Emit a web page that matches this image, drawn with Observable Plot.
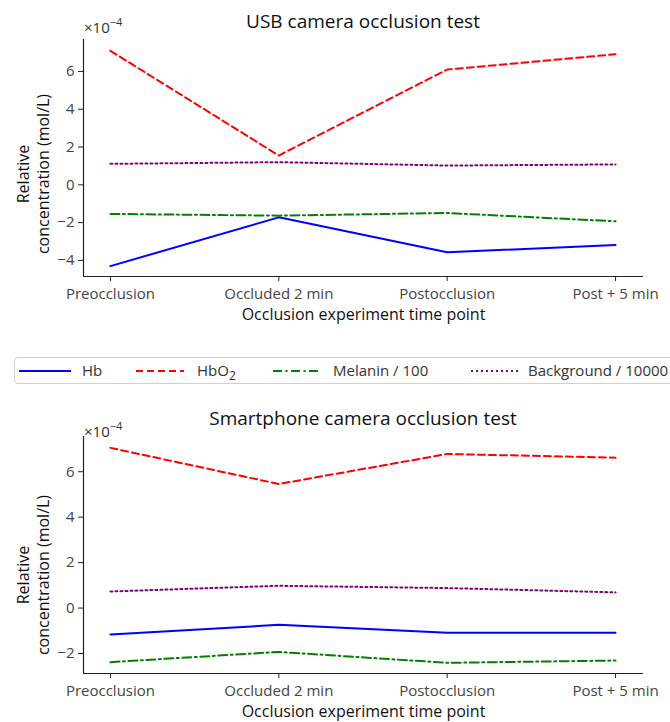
<!DOCTYPE html>
<html>
<head>
<meta charset="utf-8">
<script src="https://cdn.jsdelivr.net/npm/d3@7"></script>
<script src="https://cdn.jsdelivr.net/npm/@observablehq/plot@0.6"></script>
<style>
  html, body { margin: 0; padding: 0; background: #fff; }
  body { font-family: "Open Sans", sans-serif; }
  #root { position: relative; width: 670px; height: 722px; overflow: hidden; }
  .title { position: absolute; font-size: 19px; color: #111; text-align: center; white-space: nowrap; }
  .expo { position: absolute; font-size: 15px; color: #333; white-space: nowrap; }
  .expo sup { font-size: 11px; position: relative; top: -1px; }
  .panel { position: absolute; left: 0; }
  #legend { position: absolute; left: 14px; top: 357px; width: 700px; height: 27px; border: 1px solid #d0d0d0; border-radius: 4px; box-sizing: border-box; }
  .litem { position: absolute; top: 0; height: 25px; }
  .litem svg { position: absolute; top: 0; }
  .litem span { position: absolute; top: 2px; font-size: 15px; color: #333; white-space: nowrap; }
</style>
</head>
<body>
<div id="root"></div>
<script>
// ---- data (values in units of 1e-4 mol/L) ----
const categories = ["Preocclusion", "Occluded 2 min", "Postocclusion", "Post + 5 min"];
const exponent = -4;

const usbHb = [-4.30, -1.72, -3.57, -3.18];
const usbHbO2 = [7.09, 1.55, 6.10, 6.91];
const usbMelanin = [-1.54, -1.63, -1.49, -1.93];
const usbBackground = [1.11, 1.20, 1.02, 1.08];

const phoneHb = [-1.16, -0.74, -1.09, -1.09];
const phoneHbO2 = [7.05, 5.46, 6.78, 6.62];
const phoneMelanin = [-2.38, -1.93, -2.41, -2.31];
const phoneBackground = [0.73, 0.98, 0.88, 0.69];

const seriesNames = ["Hb", "HbO2", "Melanin / 100", "Background / 10000"];
const usbTicks = [-4, -2, 0, 2, 4, 6];
const phoneTicks = [-2, 0, 2, 4, 6];

const styles = [
  {stroke: "blue", dash: null},
  {stroke: "red", dash: "7,4"},
  {stroke: "green", dash: "9,3.5,2,3.5"},
  {stroke: "purple", dash: "2,3"}
];

function panel(values, yDomain, yTicks, top, height, mTop, mBottom, labelDy) {
  const rows = [];
  values.forEach((arr, s) => arr.forEach((v, i) => rows.push({s, i, v})));
  const marks = [];
  styles.forEach((st, s) => {
    marks.push(Plot.line(rows.filter(d => d.s === s), {
      x: "i", y: "v", stroke: st.stroke, strokeWidth: 2,
      strokeDasharray: st.dash, strokeLinejoin: "miter"
    }));
  });
  marks.push(Plot.ruleY([yDomain[0]], {stroke: "#222", strokeWidth: 1.2}));
  marks.push(Plot.ruleX([-0.16], {stroke: "#222", strokeWidth: 1.2}));
  marks.push(Plot.axisX({ticks: [0, 1, 2, 3], tickFormat: i => categories[i], tickSize: 5, tickPadding: 7, label: null, fontSize: 15, fill: "#444", stroke: "#222"}));
  marks.push(Plot.axisY({ticks: yTicks, tickFormat: d => d < 0 ? "\u2212" + Math.abs(d) : String(d), tickSize: 5, tickPadding: 4, label: null, fontSize: 15, fill: "#444", stroke: "#222"}));
  marks.push(Plot.text(["Occlusion experiment time point"], {frameAnchor: "bottom", dy: 43, fontSize: 16, fill: "#111"}));
  marks.push(Plot.text(["Relative\nconcentration (mol/L)"], {frameAnchor: "left", textAnchor: "middle", rotate: -90, dx: -51, dy: labelDy, fontSize: 16, fill: "#111", lineHeight: 1.25}));
  const svg = Plot.plot({
    width: 670, height,
    marginLeft: 83, marginRight: 27, marginTop: mTop, marginBottom: mBottom,
    x: {type: "linear", domain: [-0.16, 3.166]},
    y: {domain: yDomain},
    style: {fontFamily: "Open Sans", fontSize: "15px", background: "transparent", overflow: "visible"},
    marks
  });
  svg.classList.add("panel");
  svg.style.top = top + "px";
  return svg;
}

const root = document.getElementById("root");
root.appendChild(panel([usbHb, usbHbO2, usbMelanin, usbBackground], [-4.85, 7.69], usbTicks, 0, 330, 39, 54, 16));
root.appendChild(panel([phoneHb, phoneHbO2, phoneMelanin, phoneBackground], [-2.88, 7.55], phoneTicks, 400, 322, 36, 49, 20));

function addDiv(cls, html, left, top, width) {
  const d = document.createElement("div");
  d.className = cls; d.innerHTML = html;
  d.style.left = left + "px"; d.style.top = top + "px";
  if (width) d.style.width = width + "px";
  root.appendChild(d);
}
addDiv("title", "USB camera occlusion test", 83, 8, 560);
addDiv("title", "Smartphone camera occlusion test", 83, 405, 560);
addDiv("expo", "\u00d710<sup>\u2212" + Math.abs(exponent) + "</sup>", 84, 15);
addDiv("expo", "\u00d710<sup>\u2212" + Math.abs(exponent) + "</sup>", 84, 419);

// legend
const legend = document.createElement("div");
legend.id = "legend";
root.appendChild(legend);
const legendPos = [{l: 4, t: 67}, {l: 121, t: 182}, {l: 258, t: 318}, {l: 456, t: 513}];
const labels = ["Hb", "HbO<sub style='font-size:12px'>2</sub>", "Melanin / 100", "Background / 10000"];
styles.forEach((st, s) => {
  const item = document.createElement("div");
  item.className = "litem";
  item.style.left = "0px";
  const w = s === 0 ? 52 : 48;
  item.innerHTML = `<svg width="${w}" height="25" style="left:${legendPos[s].l}px"><line x1="0" x2="${w}" y1="13" y2="13" stroke="${st.stroke}" stroke-width="2" ${st.dash ? `stroke-dasharray="${st.dash}"` : ""}/></svg><span style="left:${legendPos[s].t}px">${labels[s]}</span>`;
  legend.appendChild(item);
});
</script>
</body>
</html>
